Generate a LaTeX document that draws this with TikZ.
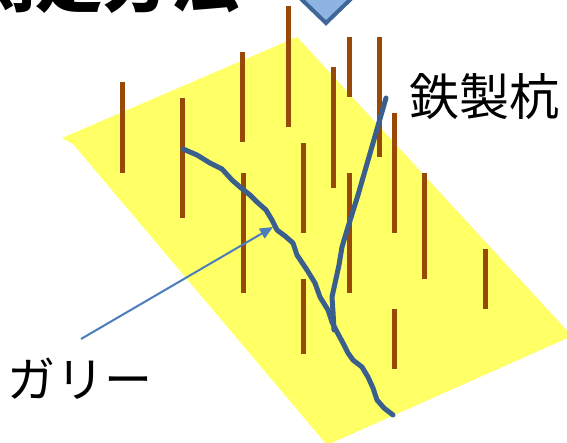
\documentclass[tikz,border=0pt]{standalone}
\usepackage{fontspec}
\newfontfamily\jp{Noto Sans CJK JP}
\usetikzlibrary{arrows.meta}
\definecolor{slope}{HTML}{FFFF66}
\definecolor{stakebrown}{HTML}{984807}
\definecolor{gullyblue}{HTML}{3A5F8C}
\definecolor{pointerblue}{HTML}{4A7EBB}
\definecolor{markfill}{HTML}{8EB4E3}
\definecolor{markline}{HTML}{3E6698}
\tikzset{
  stake/.style={draw=stakebrown, line width=5pt},
  gully/.style={draw=gullyblue, line width=5pt, line join=round, line cap=round},
  pointer/.style={draw=pointerblue, line width=2pt, -{Triangle[length=13pt,width=11pt]}},
  label/.style={font=\jp\fontsize{50}{50}\selectfont, inner sep=0pt},
}
\begin{document}
\begin{tikzpicture}[x=1pt,y=-1pt]
\useasboundingbox (0,0) rectangle (567,442);
\clip (0,0) rectangle (567,442);
\fill[white] (0,0) rectangle (567,442);

% heading, mostly above the top edge
\node[anchor=base west, inner sep=0pt, font=\jp\bfseries\fontsize{68}{68}\selectfont]
  (heading) at (-33,6) {測定方法};

% pointer mark below the heading
\filldraw[fill=markfill, draw=markline, line width=4pt, line join=miter]
  (296,-6) -- (326,23) -- (356,-6) -- cycle;

% the slope surface
\fill[slope] (62,138) -- (297,37) -- (572,336) -- (327,445) -- (73,144) -- cycle;

% iron stakes
\foreach \x/\ya/\yb in {122/82/173, 182/98/218, 242/52/142, 243/173/293,
    288/6/127, 303/143/233, 303/279/354, 333/67/188, 349/37/97, 349/173/293,
    379/37/157, 394/113/233, 394/309/369, 424/173/279, 485/249/309}
  \draw[stake] (\x,\ya) -- (\x,\yb);

% gully channel
\draw[gully] (183,149) -- (197,155) -- (210,163) -- (222,169) -- (232,180)
  -- (240,187) -- (250,195) -- (257,202) -- (266,210) -- (272,220)
  -- (277,230) -- (285,236) -- (293,243) -- (297,255) -- (307,270)
  -- (315,283) -- (320,297) -- (328,310) -- (332,322) -- (337,332)
  -- (343,343) -- (348,353) -- (353,360) -- (362,367) -- (368,377)
  -- (373,388) -- (377,400) -- (384,408) -- (393,415);

% line from the stake label down to the gully
\coordinate (stakeend) at (386,98);
\coordinate (branchfoot) at (334,330);
\draw[gully] (stakeend) -- (358,195) -- (348,227) -- (342,247) -- (339,265)
  -- (332,297) -- (333,312) -- (branchfoot);

% labels
\node[label] (tekkui) at (484,97) {鉄製杭};
\node[label, font=\jp\fontsize{48}{48}\selectfont] (gari) at (80,379) {ガリー};

% arrow from the gully label
\coordinate (arrowtail) at (81,339);
\coordinate (arrowtip) at (273,227);
\draw[pointer] (arrowtail) -- (arrowtip);
\end{tikzpicture}
\end{document}
